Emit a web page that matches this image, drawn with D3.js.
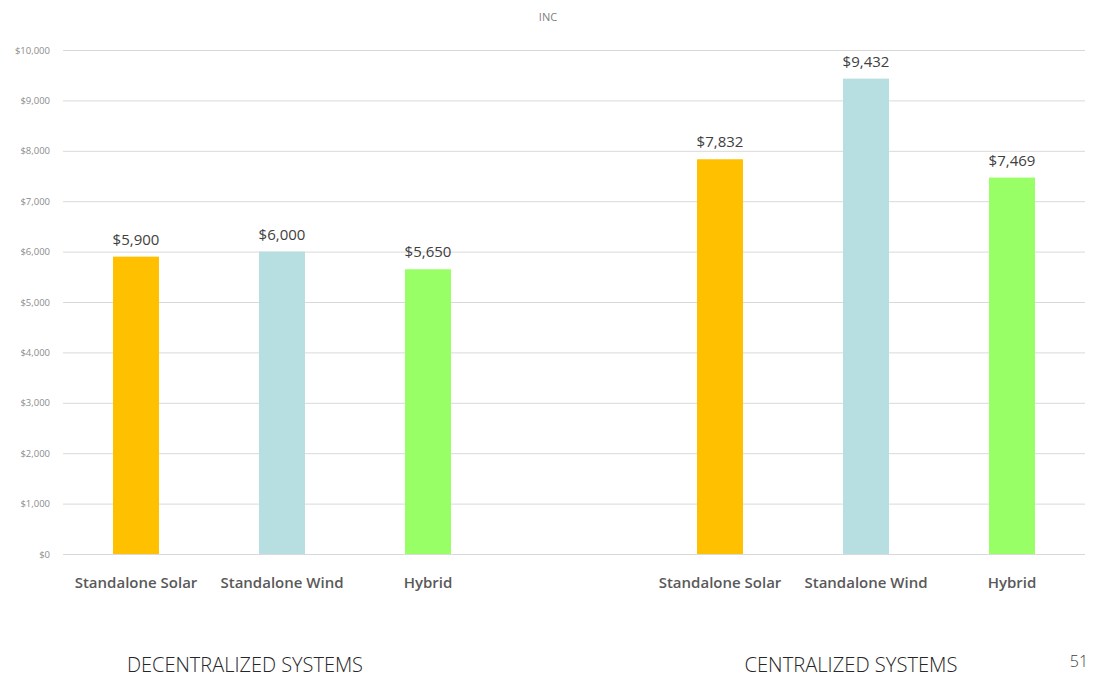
<!DOCTYPE html>
<html>
<head>
<meta charset="utf-8">
<script src="https://cdn.jsdelivr.net/npm/d3@7"></script>
<style>
  html, body { margin: 0; padding: 0; background: #fff; }
  svg { display: block; }
</style>
</head>
<body>
<svg id="chart" width="1100" height="677"></svg>
<script>
// Installation cost per system type, two groups of three bars
const groups = ["DECENTRALIZED SYSTEMS", "CENTRALIZED SYSTEMS"];
const systemTypes = ["Standalone Solar", "Standalone Wind", "Hybrid"];
const decentralizedCost = [5900, 6000, 5650];
const centralizedCost = [7832, 9432, 7469];
const yTicks = [0, 1000, 2000, 3000, 4000, 5000, 6000, 7000, 8000, 9000, 10000];
const typeColors = ["#FFC000", "#B7DEE1", "#99FF66"];

const svg = d3.select("#chart");
const plot = { left: 63, right: 1085, top: 50, bottom: 554 };

// One row per bar; a spacer slot separates the two groups
const rows = [];
systemTypes.forEach((t, i) => rows.push({ key: "d" + i, type: t, value: decentralizedCost[i], color: typeColors[i] }));
const slots = rows.map(r => r.key).concat(["gap"]);
systemTypes.forEach((t, i) => {
  const r = { key: "c" + i, type: t, value: centralizedCost[i], color: typeColors[i] };
  rows.push(r); slots.push(r.key);
});

const x = d3.scaleBand().domain(slots).range([plot.left, plot.right]).paddingInner(0.685).paddingOuter(0.3425);
const y = d3.scaleLinear().domain([0, 10000]).range([plot.bottom, plot.top]);
const mid = k => x(k) + x.bandwidth() / 2;

// Title
svg.append("text")
  .attr("x", 548).attr("y", 21)
  .attr("text-anchor", "middle")
  .attr("font-family", "'Open Sans', sans-serif")
  .attr("font-size", 11)
  .attr("fill", "#7f7f7f")
  .text("INC");

// Gridlines and y labels
const yAxis = d3.axisLeft(y)
  .tickValues(yTicks)
  .tickSize(-(plot.right - plot.left))
  .tickPadding(13)
  .tickFormat(d => "$" + d3.format(",")(d));
const gy = svg.append("g").attr("transform", `translate(${plot.left},0)`).call(yAxis);
gy.select(".domain").remove();
gy.selectAll(".tick line").attr("stroke", "#d9d9d9").attr("stroke-width", 1);
gy.selectAll(".tick text")
  .attr("font-family", "'Open Sans', sans-serif")
  .attr("font-size", 9.5)
  .attr("fill", "#8c8c8c");

// Bars
svg.append("g").selectAll("rect").data(rows).join("rect")
  .attr("x", d => x(d.key))
  .attr("width", x.bandwidth())
  .attr("y", d => y(d.value))
  .attr("height", d => y(0) - y(d.value))
  .attr("fill", d => d.color);

// Value labels
svg.append("g").selectAll("text").data(rows).join("text")
  .attr("x", d => mid(d.key))
  .attr("y", d => y(d.value) - 12)
  .attr("text-anchor", "middle")
  .attr("font-family", "'Open Sans', sans-serif")
  .attr("font-size", 15)
  .attr("fill", "#404040")
  .text(d => "$" + d3.format(",")(d.value));

// Category labels
svg.append("g").selectAll("text").data(rows).join("text")
  .attr("x", d => mid(d.key))
  .attr("y", 588)
  .attr("text-anchor", "middle")
  .attr("font-family", "'Open Sans', sans-serif")
  .attr("font-size", 15)
  .attr("font-weight", 600)
  .attr("fill", "#595959")
  .text(d => d.type);

// Group captions
const groupCenters = [mid("d1") - 37, mid("c1") - 15];
const groupWidths = [236, 213];
svg.append("g").selectAll("text").data(groups).join("text")
  .attr("x", (d, i) => groupCenters[i])
  .attr("y", 672)
  .attr("text-anchor", "middle")
  .attr("font-family", "'Open Sans', sans-serif")
  .attr("font-size", 21)
  .attr("font-weight", 300)
  .attr("fill", "#262626")
  .attr("textLength", (d, i) => groupWidths[i])
  .attr("lengthAdjust", "spacingAndGlyphs")
  .text(d => d);

// Page number
svg.append("text")
  .attr("x", 1079).attr("y", 667)
  .attr("text-anchor", "middle")
  .attr("font-family", "'Open Sans', sans-serif")
  .attr("font-size", 16)
  .attr("font-weight", 300)
  .attr("fill", "#404040")
  .text("51");
</script>
</body>
</html>
